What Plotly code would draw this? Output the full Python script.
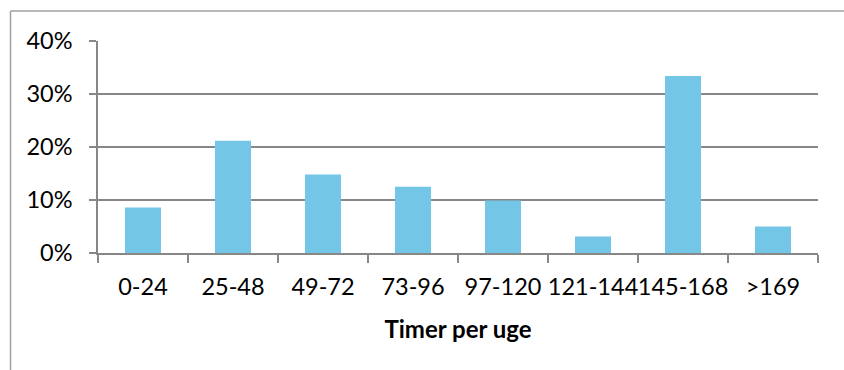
import plotly.graph_objects as go

categories = ["0-24", "25-48", "49-72", "73-96", "97-120", "121-144", "145-168", ">169"]
values = [0.086, 0.212, 0.148, 0.125, 0.099, 0.031, 0.334, 0.050]
x_title = "Timer per uge"

W, H = 844, 370
L, R, T, B = 98, 818, 41, 253.5

fig = go.Figure(go.Bar(x=categories, y=values, marker=dict(color="#73C6E6", line=dict(width=0)), width=0.4))

grid = "#878787"
fig.update_layout(
    width=W, height=H,
    margin=dict(l=L, r=W - R, t=T, b=H - B, autoexpand=False),
    paper_bgcolor="white", plot_bgcolor="white",
    font=dict(family="Lato, Open Sans, sans-serif", size=23.5, color="#000"),
    showlegend=False,
    bargap=0.6,
)
fig.update_xaxes(
    type="category", showline=True, linecolor=grid, linewidth=1.5,
    ticks="outside", tickson="boundaries", ticklen=8, tickcolor=grid, tickwidth=1.5,
    showgrid=False, ticklabelstandoff=12, tickangle=0, automargin=False,
    title=dict(text="<b>" + x_title + "</b>", font=dict(size=24), standoff=22),
)
fig.update_yaxes(
    range=[0, 0.4], dtick=0.1, tickformat=".0%",
    showline=True, linecolor=grid, linewidth=1.5,
    ticks="outside", ticklen=7, tickcolor=grid, tickwidth=1.5,
    showgrid=True, gridcolor=grid, gridwidth=1.5, zeroline=False,
    ticklabelstandoff=12, automargin=False,
)

pw, ph = R - L, B - T
def px2x(p):
    return (p - L) / pw
def px2y(p):
    return (B - p) / ph

fig.add_shape(type="line", xref="paper", yref="paper",
              x0=px2x(10.5), x1=px2x(10.5), y0=px2y(11), y1=px2y(400),
              line=dict(color="#A0A0A0", width=1.5))
fig.add_shape(type="line", xref="paper", yref="paper",
              x0=px2x(10.5), x1=px2x(900), y0=px2y(11), y1=px2y(11),
              line=dict(color="#A0A0A0", width=1.5))

fig.write_html("out.html")
